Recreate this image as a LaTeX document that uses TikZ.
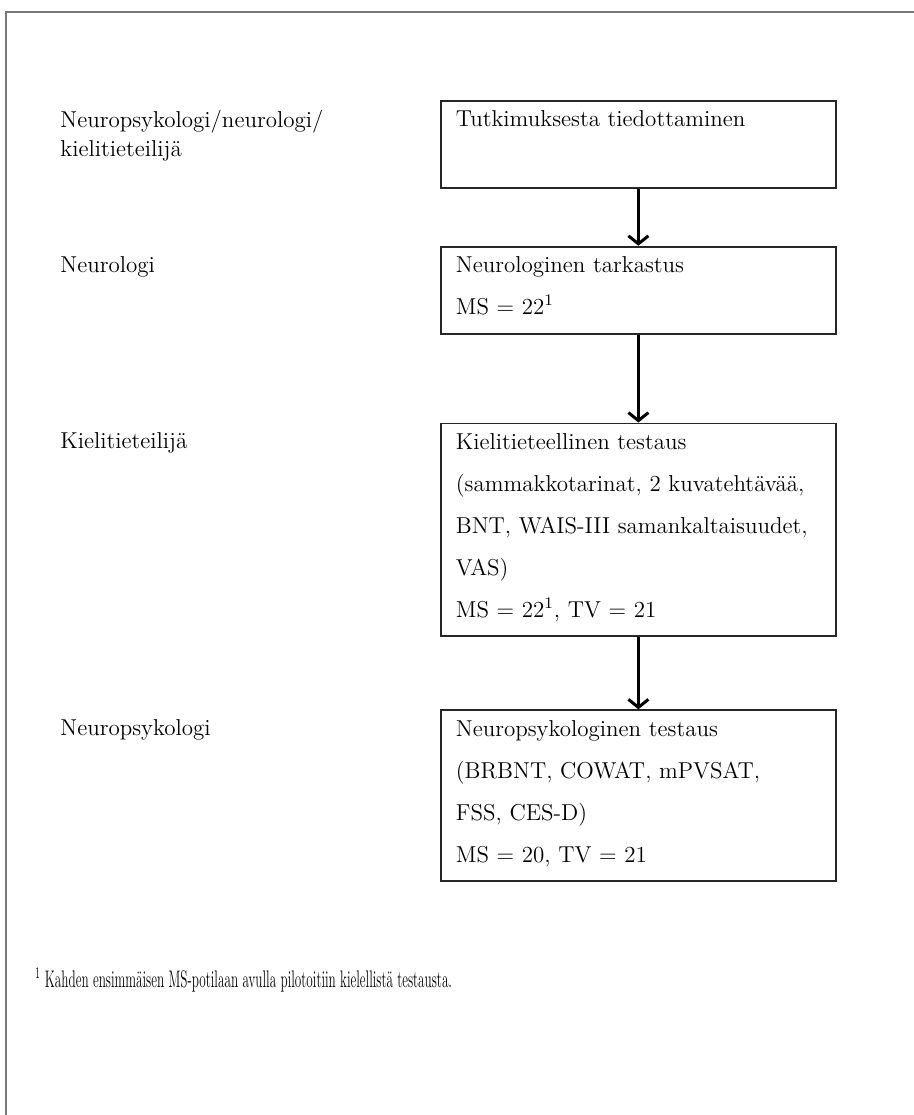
\documentclass[tikz,border=0pt]{standalone}
\usepackage{graphicx}
\usetikzlibrary{positioning, arrows.meta}
\definecolor{framegray}{RGB}{120,120,120}

\begin{document}
\begin{tikzpicture}[>={Straight Barb[length=4pt,width=10pt]}, font=\fontsize{11.5}{21}\selectfont,
          stage/.style={draw=black!85, line width=0.9pt, anchor=north west, align=left,
                        text width=182.5pt, inner xsep=7.5pt, inner ysep=5pt,
                        execute at end node={\rule[-4.5pt]{0pt}{4.5pt}}},
          role/.style={anchor=north west, align=left, inner xsep=0pt, inner ysep=5pt,
                       font=\fontsize{11.5}{14.5}\selectfont},
          flow/.style={->, line width=1.5pt}]
        \useasboundingbox (0,0) rectangle (457pt,-557.5pt);
        \draw[framegray, line width=1pt] (3pt,-557.5pt) -- (3pt,-6pt) -- (457pt,-6pt);
        \node[stage] (info) at (220pt,-50pt) {Tutkimuksesta tiedottaminen\\ \mbox{}};
        \node[stage, below=28.5pt of info] (neuro) {Neurologinen tarkastus\\
              MS = 22\textsuperscript{1}};
        \node[stage, below=44pt of neuro] (ling) {Kielitieteellinen testaus\\
              (sammakkotarinat, 2 kuvatehtävää,\\ BNT, WAIS-III samankaltaisuudet,\\
              VAS)\\ MS = 22\textsuperscript{1}, TV = 21};
        \node[stage, below=36pt of ling] (npsy) {Neuropsykologinen testaus\\
              (BRBNT, COWAT, mPVSAT,\\ FSS, CES-D)\\ MS = 20, TV = 21};
        \draw[flow] (info) -- (neuro); \draw[flow] (neuro) -- (ling); \draw[flow] (ling) -- (npsy);
        \coordinate (lx) at (30pt,0);
        \node[role] (r1) at (lx |- info.north) {Neuropsykologi/neurologi/\\ kielitieteilijä};
        \node[role] (r2) at (lx |- neuro.north) {Neurologi};
        \node[role] (r3) at (lx |- ling.north) {Kielitieteilijä};
        \node[role] (r4) at (lx |- npsy.north) {Neuropsykologi};
        \node[anchor=base west, inner sep=0pt] (note) at (17.5pt,-493.5pt)
              {\fontsize{12}{14}\selectfont\scalebox{0.55}[1]{\textsuperscript{1} Kahden ensimmäisen MS-potilaan avulla pilotoitiin kielellistä testausta.}};
      \end{tikzpicture}
\end{document}
